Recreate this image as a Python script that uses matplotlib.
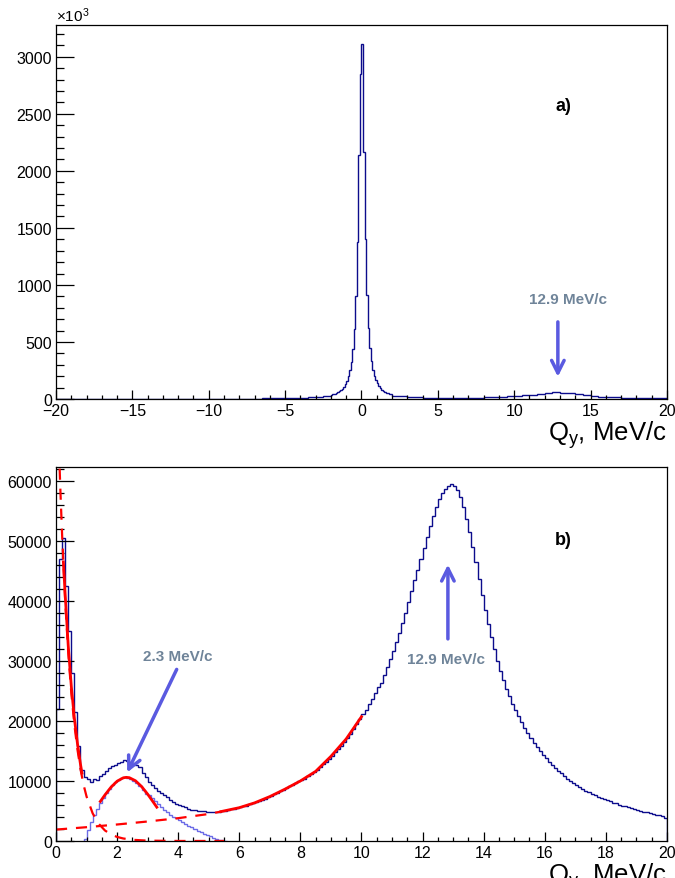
import matplotlib
matplotlib.use("Agg")
import matplotlib.pyplot as plt
import numpy as np
from matplotlib.ticker import MultipleLocator

plt.rcParams["font.family"] = ["Liberation Sans", "DejaVu Sans"]
plt.rcParams["mathtext.default"] = "regular"

DARK = "#0c0c8c"
LIGHT = "#6b6be6"
ARROW = "#5a5ae0"
LABEL = "#6f8499"

# ---- panel a: full Qy range, counts in units of 10^3 ----
a_edges = np.concatenate([
    np.arange(-20.0, -2.0, 0.5),
    np.arange(-2.0, 2.0, 0.1),
    np.arange(2.0, 20.01, 0.5),
])
a_counts = [
    0.4, 0.4, 0.5, 0.5, 0.5, 0.6, 0.6, 0.6, 0.7, 0.7, 0.8, 0.8,
    0.9, 1.0, 1.0, 1.1, 1.2, 1.3, 1.4, 1.5, 1.7, 1.9, 2.1, 2.4,
    2.7, 3.1, 3.6, 4.2, 5.0, 6.0, 7.3, 9.0, 11.5, 15, 20, 28,
    38, 42, 47, 53, 60, 68, 78, 91, 107, 130,
    160, 200, 252, 328, 440, 615, 900, 1380, 2140, 2850,
    3110, 2170, 1400, 910, 622, 446, 333, 257, 204, 165,
    136, 113, 95, 81, 70, 61, 54, 48, 43, 39,
    30, 22, 17, 13.5, 11, 9.5, 8.5, 8.2, 8.5, 9.2, 10.2, 11.5,
    13.2, 15.5, 18.5, 22, 27, 32, 38, 45, 52, 57, 56, 50,
    41, 33, 26, 21, 17, 14, 11.5, 9.5, 8, 7, 6, 5,
]

# ---- panel b: 0..20 MeV/c ----
b_edges = np.linspace(0, 20, 201)
b_counts = [
    22000, 47000, 50500, 42500, 35000, 28000, 21500, 15800, 11800, 10600,
    10300, 9900, 10400, 10100, 10800, 11200, 11700, 12100, 12500, 12700,
    13000, 13200, 13500, 13300, 13100, 12900, 12700, 12300, 11400, 10600,
    9900, 9300, 8800, 8300, 8000, 7600, 7300, 6900, 6500, 6200,
    6000, 5800, 5600, 5400, 5200, 5100, 5050, 5000, 4950, 4900,
    4900, 4850, 4900, 4900, 5000, 5050, 5150, 5250, 5350, 5450,
    5600, 5750, 5900, 6100, 6250, 6450, 6650, 6850, 7050, 7300,
    7500, 7750, 8000, 8250, 8500, 8800, 9100, 9400, 9700, 9950,
    10100, 10400, 10750, 11100, 11500, 11900, 12300, 12750, 13200, 13700,
    14200, 14750, 15300, 15900, 16550, 17200, 17900, 18650, 19450, 20250,
    21100, 21900, 22800, 23700, 24600, 25600, 26400, 27700, 29000, 30300,
    31700, 33200, 34700, 36300, 38000, 39800, 41600, 43400, 45200, 47000,
    48800, 50600, 52400, 54100, 55600, 56900, 57900, 58700, 59200, 59500,
    59200, 58500, 57300, 55700, 53700, 51400, 49000, 46400, 43600, 41000,
    38500, 36100, 33900, 31900, 30000, 28300, 26800, 25400, 24100, 22900,
    21800, 20800, 19800, 18900, 18000, 17200, 16400, 15700, 15000, 14400,
    13800, 13200, 12700, 12200, 11700, 11250, 10800, 10400, 10000, 9650,
    9300, 9000, 8700, 8400, 8150, 7900, 7650, 7400, 7200, 7000,
    6800, 6600, 6400, 6250, 6050, 5900, 5750, 5600, 5450, 5300,
    5150, 5000, 4900, 4750, 4650, 4500, 4400, 4250, 4150, 3850,
]

# background-subtracted 2.3 MeV/c structure
sub_edges = np.linspace(0.9, 5.6, 48)
sub_counts = [
    300, 1800, 3200, 4300, 5400, 6300, 7200, 8000, 8700, 9300,
    9800, 10200, 10500, 10600, 10500, 10300, 10000, 9600, 9100, 8500,
    7900, 7600, 7100, 6600, 6100, 5600, 5200, 4800, 4400, 4050,
    3750, 3450, 3150, 2850, 2550, 2250, 1950, 1700, 1450, 1200,
    950, 750, 550, 380, 220, 100, 20,
]

# fit components
expo_x = [0.0, 0.05, 0.1, 0.15, 0.2, 0.3, 0.4, 0.5, 0.6, 0.7, 0.8, 0.9,
          1.0, 1.2, 1.4, 1.6, 1.8, 2.0, 2.2, 2.5, 3.0, 4.0, 5.5]
expo_y = [82000, 72800, 64700, 57400, 50900, 40000, 31400, 24700, 19400,
          15300, 12000, 9400, 7400, 4600, 2850, 1760, 1090, 675, 420, 200,
          60, 5, 0]
expo_fit_x = [0.24, 0.3, 0.4, 0.5, 0.6, 0.7, 0.8, 0.85]
expo_fit_y = [46500, 41000, 32500, 25800, 20500, 16300, 12800, 11300]

bkg_x = [0, 1, 2, 3, 4, 4.5, 5, 5.4]
bkg_y = [1900, 2300, 2750, 3250, 3800, 4150, 4500, 4900]
bkg_fit_x = [5.4, 6.0, 6.5, 7.0, 7.5, 8.0, 8.5, 9.0, 9.5, 10.0]
bkg_fit_y = [4900, 5550, 6350, 7400, 8650, 10000, 11600, 14100, 17000, 20700]

gaus_x = [1.45, 1.6, 1.8, 2.0, 2.2, 2.3, 2.4, 2.6, 2.8, 3.0, 3.2, 3.3]
gaus_y = [6580, 7660, 8960, 9960, 10520, 10600, 10545, 10040, 9080, 7800,
          6360, 5630]

fig = plt.figure(figsize=(6.75, 8.79), dpi=100)
ax1 = fig.add_axes([0.083, 0.545, 0.905, 0.4255])
ax2 = fig.add_axes([0.083, 0.0421, 0.905, 0.4255])


def style(ax, xmaj, xmin, ymaj, ymin):
    ax.xaxis.set_major_locator(MultipleLocator(xmaj))
    ax.xaxis.set_minor_locator(MultipleLocator(xmin))
    ax.yaxis.set_major_locator(MultipleLocator(ymaj))
    ax.yaxis.set_minor_locator(MultipleLocator(ymin))
    ax.tick_params(axis="both", which="both", direction="in",
                   top=False, right=False, labelsize=11.5, width=0.9)
    ax.tick_params(axis="x", which="major", length=6.5, pad=3)
    ax.tick_params(axis="x", which="minor", length=3.2)
    ax.tick_params(axis="y", which="major", length=13, pad=3)
    ax.tick_params(axis="y", which="minor", length=6)
    for sp in ax.spines.values():
        sp.set_linewidth(0.9)


# panel a
ax1.stairs(a_counts, a_edges, color=DARK, linewidth=1.0)
ax1.set_xlim(-20, 20)
ax1.set_ylim(0, 3280)
style(ax1, 5, 1, 500, 100)
ax1.text(0.0, 1.002, r"$\times$10$^{3}$", transform=ax1.transAxes,
         ha="left", va="bottom", fontsize=11)
ax1.text(1.0, -0.052, "Q$_y$, MeV/c", transform=ax1.transAxes,
         ha="right", va="top", fontsize=18.5)
ax1.text(13.2, 2570, "a)", fontsize=13, fontweight="bold",
         ha="center", va="center")
ax1.text(13.5, 880, "12.9 MeV/c", fontsize=11, fontweight="bold",
         color=LABEL, ha="center", va="center")
ax1.annotate("", xy=(12.86, 170), xytext=(12.86, 700),
             arrowprops=dict(arrowstyle="->,head_length=0.9,head_width=0.45",
                             color=ARROW, lw=2.5))

# panel b
ax2.stairs(sub_counts, sub_edges, color=LIGHT, linewidth=1.0)
ax2.stairs(b_counts, b_edges, color=DARK, linewidth=1.0)
ax2.plot(expo_x, expo_y, color="red", lw=1.6, ls=(0, (5, 4)))
ax2.plot(bkg_x, bkg_y, color="red", lw=1.6, ls=(0, (5, 4)))
ax2.plot(expo_fit_x, expo_fit_y, color="red", lw=2)
ax2.plot(bkg_fit_x, bkg_fit_y, color="red", lw=2)
ax2.plot(gaus_x, gaus_y, color="red", lw=2)
ax2.set_xlim(0, 20)
ax2.set_ylim(0, 62300)
style(ax2, 2, 0.5, 10000, 2000)
ax2.text(1.0, -0.052, "Q$_y$, MeV/c", transform=ax2.transAxes,
         ha="right", va="top", fontsize=18.5)
ax2.text(16.6, 50300, "b)", fontsize=13, fontweight="bold",
         ha="center", va="center")
ax2.text(4.0, 30800, "2.3 MeV/c", fontsize=11, fontweight="bold",
         color=LABEL, ha="center", va="center")
ax2.annotate("", xy=(2.29, 11000), xytext=(3.99, 29000),
             arrowprops=dict(arrowstyle="->,head_length=0.9,head_width=0.45",
                             color=ARROW, lw=2.5))
ax2.text(12.77, 30300, "12.9 MeV/c", fontsize=11, fontweight="bold",
         color=LABEL, ha="center", va="center")
ax2.annotate("", xy=(12.83, 46500), xytext=(12.83, 33200),
             arrowprops=dict(arrowstyle="->,head_length=0.9,head_width=0.45",
                             color=ARROW, lw=2.5))

fig.savefig("out.png", dpi=100)
